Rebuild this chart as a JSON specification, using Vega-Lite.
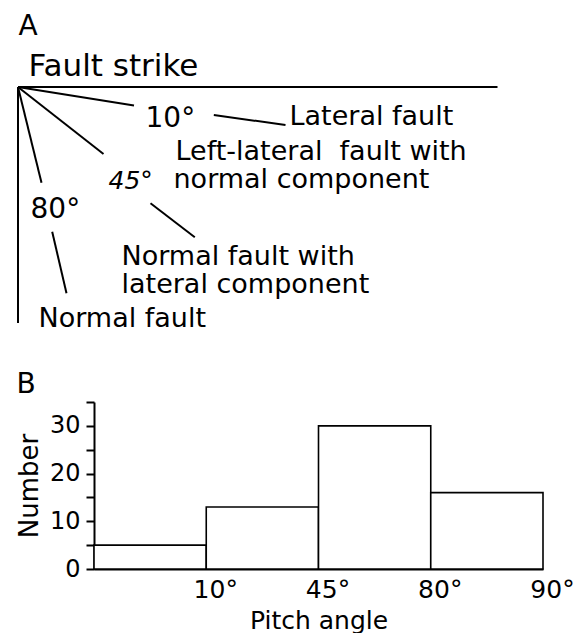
{
  "$schema": "https://vega.github.io/schema/vega-lite/v6.json",
  "padding": {"left": 16, "top": 0, "right": 0, "bottom": 0},
  "background": "white",
  "config": {
    "view": {"stroke": null},
    "font": "DejaVu Sans",
    "text": {"font": "DejaVu Sans", "color": "black"},
    "axis": {"labelFont": "DejaVu Sans", "titleFont": "DejaVu Sans", "labelColor": "black", "titleColor": "black", "domainColor": "black", "tickColor": "black", "grid": false, "titleFontWeight": "normal"}
  },
  "bounds": "flush",
  "spacing": 42,
  "vconcat": [
    {
      "width": 449,
      "height": 360,
      "layer": [
        {
          "data": {"values": [
            {"name": "strike", "x": 17.5, "y": 87, "x2": 497, "y2": 87},
            {"name": "vertical", "x": 17.5, "y": 87, "x2": 17.5, "y2": 323},
            {"name": "p10", "x": 17.5, "y": 87, "x2": 133.5, "y2": 105.5},
            {"name": "p45", "x": 17.5, "y": 87, "x2": 103, "y2": 154},
            {"name": "p80", "x": 17.5, "y": 87, "x2": 41, "y2": 182.7},
            {"name": "lead10", "x": 213.3, "y": 115, "x2": 285, "y2": 125},
            {"name": "lead45", "x": 150, "y": 203.3, "x2": 194.3, "y2": 237.3},
            {"name": "lead80", "x": 51.7, "y": 231.7, "x2": 66, "y2": 293.3}
          ]},
          "mark": {"type": "rule", "color": "black", "strokeWidth": 2},
          "encoding": {
            "x": {"field": "x", "type": "quantitative", "scale": {"domain": [93.5, 542.5]}, "axis": null},
            "y": {"field": "y", "type": "quantitative", "scale": {"domain": [0, 360], "reverse": true}, "axis": null},
            "x2": {"field": "x2"},
            "y2": {"field": "y2"}
          }
        },
        {
          "data": {"values": [
            {"label": "A", "x": 18, "y": 35, "size": 28},
            {"label": "Fault strike", "x": 28, "y": 76, "size": 31},
            {"label": "10°", "x": 145, "y": 126.7, "size": 28},
            {"label": "Lateral fault", "x": 289, "y": 125, "size": 27},
            {"label": "Left-lateral\u00a0 fault with", "x": 175, "y": 160, "size": 27},
            {"label": "normal component", "x": 173, "y": 188.3, "size": 27},
            {"label": "80°", "x": 30, "y": 218.3, "size": 28},
            {"label": "Normal fault with", "x": 121, "y": 265, "size": 27},
            {"label": "lateral component", "x": 121, "y": 293.3, "size": 27},
            {"label": "Normal fault", "x": 38, "y": 326.7, "size": 27},
            {"label": "B", "x": 16, "y": 393, "size": 28}
          ]},
          "mark": {"type": "text", "align": "left", "baseline": "alphabetic"},
          "encoding": {
            "x": {"field": "x", "type": "quantitative", "scale": {"domain": [93.5, 542.5]}, "axis": null},
            "y": {"field": "y", "type": "quantitative", "scale": {"domain": [0, 360], "reverse": true}, "axis": null},
            "text": {"field": "label"},
            "size": {"field": "size", "type": "quantitative", "scale": null}
          }
        },
        {
          "data": {"values": [
            {"label": "45°", "x": 108, "y": 189.3, "size": 25}
          ]},
          "mark": {"type": "text", "align": "left", "baseline": "alphabetic", "fontStyle": "italic"},
          "encoding": {
            "x": {"field": "x", "type": "quantitative", "scale": {"domain": [93.5, 542.5]}, "axis": null},
            "y": {"field": "y", "type": "quantitative", "scale": {"domain": [0, 360], "reverse": true}, "axis": null},
            "text": {"field": "label"},
            "size": {"field": "size", "type": "quantitative", "scale": null}
          }
        }
      ]
    },
    {
      "width": 449,
      "height": 167,
      "data": {"values": [
        {"from": 0, "to": 1, "count": 5},
        {"from": 1, "to": 2, "count": 13},
        {"from": 2, "to": 3, "count": 30},
        {"from": 3, "to": 4, "count": 16}
      ]},
      "mark": {"type": "bar", "fill": "white", "stroke": "black", "strokeWidth": 1.6},
      "encoding": {
        "x": {
          "field": "from", "type": "quantitative",
          "scale": {"domain": [0, 4], "nice": false, "zero": false},
          "axis": {
            "values": [1, 2, 3, 4],
            "labelExpr": "datum.value == 1 ? '10°' : datum.value == 2 ? '45°' : datum.value == 3 ? '80°' : '90°'",
            "ticks": false, "domainWidth": 2, "labelFontSize": 25, "labelPadding": 8,
            "labelOffset": 9, "labelFlush": false, "labelBound": false, "labelOverlap": false,
            "title": "Pitch angle", "titleFontSize": 25, "titlePadding": 6
          }
        },
        "x2": {"field": "to"},
        "y": {
          "field": "count", "type": "quantitative",
          "scale": {"domain": [0, 35], "nice": false},
          "axis": {
            "values": [0, 5, 10, 15, 20, 25, 30, 35],
            "labelExpr": "datum.value % 10 == 0 ? datum.label : ''",
            "tickSize": 8, "tickWidth": 2, "domainWidth": 2, "labelFontSize": 24, "labelPadding": 6,
            "labelOverlap": false, "labelFlush": false, "labelBound": false,
            "title": "Number", "titleFontSize": 26, "titlePadding": 7
          }
        },
        "y2": {"datum": 0}
      }
    }
  ]
}
